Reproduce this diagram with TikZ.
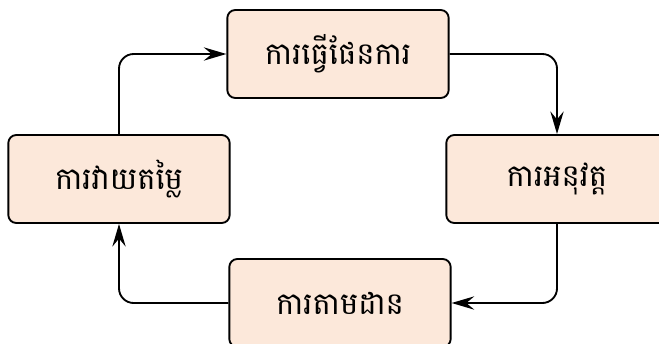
\documentclass[tikz,border=0pt]{standalone}
\usepackage{fontspec}
\newfontfamily\khmerfont[Script=Khmer]{Battambang}
\usetikzlibrary{arrows.meta}
\definecolor{peach}{HTML}{FCE8DA}
\tikzset{
	stagebox/.style={draw, line width=1.4pt, rounded corners=6pt, fill=peach,
		minimum width=166pt, minimum height=66pt, inner sep=0pt,
		font=\khmerfont\fontsize{23}{26}\selectfont},
	flow/.style={line width=1.4pt, rounded corners=11pt,
		-{Stealth[length=17pt, width=10pt, inset=6pt]}}
}
\begin{document}
\begin{tikzpicture}[x=0.75pt, y=-0.75pt]
	\useasboundingbox (0, 0) rectangle (659, 343);
	%%
	\node[stagebox] (plan) at (338, 54) {ការធ្វើផែនការ};
	\node[stagebox] (do) at (557, 179) {ការអនុវត្ត};
	\node[stagebox] (watch) at (340, 303) {ការតាមដាន};
	\node[stagebox] (assess) at (119, 179) {ការវាយតម្លៃ};
	%%
	\draw[flow] (plan.east) -| (do.north);
	\draw[flow] (do.south) |- (watch.east);
	\draw[flow] (watch.west) -| (assess.south);
	\draw[flow] (assess.north) |- (plan.west);
\end{tikzpicture}
\end{document}
